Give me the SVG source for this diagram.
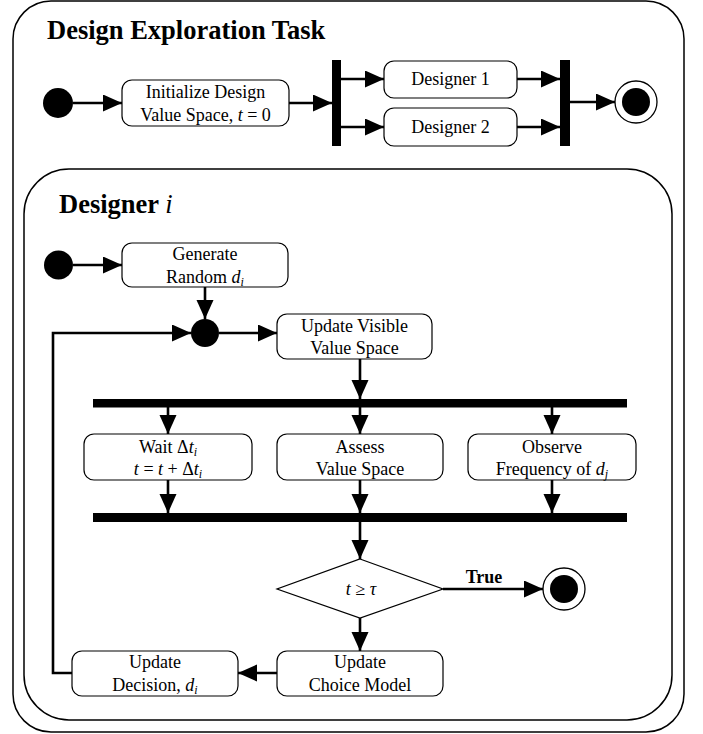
<svg xmlns="http://www.w3.org/2000/svg" width="703" height="734" viewBox="0 0 703 734" font-family="'Liberation Serif', 'Times New Roman', Times, 'DejaVu Serif', serif">
  <style>
    text { font-family: 'Liberation Serif', 'Times New Roman', Times, 'DejaVu Serif', serif; }
    .frame { fill: #fff; stroke: #000; stroke-width: 1.5; }
    .act { fill: #fff; stroke: #000; stroke-width: 1.2; }
    .bar { fill: #000; }
    .dot { fill: #000; }
    .ring { fill: #fff; stroke: #000; stroke-width: 1.3; }
    .edge { fill: none; stroke: #000; stroke-width: 2.6; }
    .lbl { font-size: 18px; fill: #000; text-anchor: middle; }
    .title { font-size: 26.5px; font-weight: bold; fill: #000; }
    .it { font-style: italic; }
    .sub { font-style: italic; font-size: 12px; }
  </style>
  <defs>
    <marker id="arrow" markerUnits="userSpaceOnUse" markerWidth="20" markerHeight="18" refX="19" refY="8.5" orient="auto">
      <path d="M0,0 L19,8.5 L0,17 z" fill="#000"/>
    </marker>
  </defs>

  <!-- outer activity frame -->
  <g id="task-frame">
    <rect class="frame" x="13" y="1" width="671" height="731" rx="38" ry="38"/>
    <text class="title" x="47" y="39">Design Exploration Task</text>
  </g>

  <!-- top-level flow -->
  <g id="task-start"><circle class="dot" cx="58" cy="103" r="15"/></g>
  <g id="init">
    <rect class="act" x="122" y="80" width="167" height="46" rx="10"/>
    <text class="lbl" x="205.5" y="98">Initialize Design</text>
    <text class="lbl" x="205.5" y="121">Value Space, <tspan class="it">t</tspan> = 0</text>
  </g>
  <g id="task-fork"><rect class="bar" x="332" y="60" width="9" height="86"/></g>
  <g id="designer1">
    <rect class="act" x="384" y="61" width="133" height="37" rx="10"/>
    <text class="lbl" x="450.5" y="85">Designer 1</text>
  </g>
  <g id="designer2">
    <rect class="act" x="384" y="108" width="133" height="38" rx="10"/>
    <text class="lbl" x="450.5" y="133">Designer 2</text>
  </g>
  <g id="task-join"><rect class="bar" x="560" y="60" width="10" height="86"/></g>
  <g id="task-end">
    <circle class="ring" cx="636" cy="102" r="21"/>
    <circle class="dot" cx="636" cy="102" r="14"/>
  </g>

  <!-- designer sub-activity frame -->
  <g id="designer-frame">
    <rect class="frame" x="24" y="169" width="648" height="551" rx="45" ry="45"/>
    <text class="title" x="59" y="213">Designer <tspan font-style="italic" font-weight="normal">i</tspan></text>
  </g>

  <g id="d-start"><circle class="dot" cx="58.5" cy="265" r="14.5"/></g>
  <g id="generate">
    <rect class="act" x="122" y="243" width="166" height="44" rx="10"/>
    <text class="lbl" x="205" y="260">Generate</text>
    <text class="lbl" x="205" y="283">Random <tspan class="it">d</tspan><tspan class="sub" dy="3">i</tspan></text>
  </g>
  <g id="merge"><circle class="dot" cx="205" cy="333" r="14"/></g>
  <g id="update-visible">
    <rect class="act" x="277" y="314" width="155" height="45" rx="10"/>
    <text class="lbl" x="354.5" y="332">Update Visible</text>
    <text class="lbl" x="354.5" y="354">Value Space</text>
  </g>
  <g id="fork"><rect class="bar" x="93" y="399" width="534" height="8.5"/></g>
  <g id="wait">
    <rect class="act" x="84" y="434" width="168" height="46" rx="10"/>
    <text class="lbl" x="168" y="453">Wait Δ<tspan class="it">t</tspan><tspan class="sub" dy="3">i</tspan></text>
    <text class="lbl" x="168" y="475"><tspan class="it">t</tspan> = <tspan class="it">t</tspan> + Δ<tspan class="it">t</tspan><tspan class="sub" dy="3">i</tspan></text>
  </g>
  <g id="assess">
    <rect class="act" x="277" y="434" width="166" height="46" rx="10"/>
    <text class="lbl" x="360" y="453">Assess</text>
    <text class="lbl" x="360" y="475">Value Space</text>
  </g>
  <g id="observe">
    <rect class="act" x="468" y="434" width="168" height="46" rx="10"/>
    <text class="lbl" x="552" y="453">Observe</text>
    <text class="lbl" x="552" y="475">Frequency of <tspan class="it">d</tspan><tspan class="sub" dy="3">j</tspan></text>
  </g>
  <g id="join"><rect class="bar" x="93" y="513" width="534" height="9"/></g>
  <g id="decision">
    <polygon class="act" points="360,559 443,589 360,618 277,589"/>
    <text class="lbl it" x="361" y="595" font-size="17">t ≥ τ</text>
  </g>
  <g id="d-end">
    <circle class="ring" cx="564" cy="589" r="21"/>
    <circle class="dot" cx="564" cy="589" r="14"/>
  </g>
  <g id="choice-model">
    <rect class="act" x="277" y="651" width="166" height="45" rx="10"/>
    <text class="lbl" x="360" y="668">Update</text>
    <text class="lbl" x="360" y="691">Choice Model</text>
  </g>
  <g id="update-decision">
    <rect class="act" x="72" y="651" width="166" height="45" rx="10"/>
    <text class="lbl" x="155" y="668">Update</text>
    <text class="lbl" x="155" y="691">Decision, <tspan class="it">d</tspan><tspan class="sub" dy="3">i</tspan></text>
  </g>

  <!-- connectors -->
  <g id="connectors">
    <line class="edge" x1="73" y1="103" x2="122" y2="103" marker-end="url(#arrow)"/>
    <line class="edge" x1="289" y1="103" x2="332" y2="103" marker-end="url(#arrow)"/>
    <line class="edge" x1="341" y1="79" x2="384" y2="79" marker-end="url(#arrow)"/>
    <line class="edge" x1="341" y1="127" x2="384" y2="127" marker-end="url(#arrow)"/>
    <line class="edge" x1="517" y1="79" x2="560" y2="79" marker-end="url(#arrow)"/>
    <line class="edge" x1="517" y1="127" x2="560" y2="127" marker-end="url(#arrow)"/>
    <line class="edge" x1="570" y1="102" x2="615" y2="102" marker-end="url(#arrow)"/>

    <line class="edge" x1="73" y1="265" x2="122" y2="265" marker-end="url(#arrow)"/>
    <line class="edge" x1="205" y1="287" x2="205" y2="319" marker-end="url(#arrow)"/>
    <line class="edge" x1="219" y1="333" x2="277" y2="333" marker-end="url(#arrow)"/>
    <line class="edge" x1="360" y1="359" x2="360" y2="399" marker-end="url(#arrow)"/>
    <line class="edge" x1="168" y1="407" x2="168" y2="434" marker-end="url(#arrow)"/>
    <line class="edge" x1="360" y1="407" x2="360" y2="434" marker-end="url(#arrow)"/>
    <line class="edge" x1="552" y1="407" x2="552" y2="434" marker-end="url(#arrow)"/>
    <line class="edge" x1="168" y1="480" x2="168" y2="513" marker-end="url(#arrow)"/>
    <line class="edge" x1="360" y1="480" x2="360" y2="513" marker-end="url(#arrow)"/>
    <line class="edge" x1="552" y1="480" x2="552" y2="513" marker-end="url(#arrow)"/>
    <line class="edge" x1="360" y1="522" x2="360" y2="559" marker-end="url(#arrow)"/>
    <line class="edge" x1="443" y1="589" x2="543" y2="589" marker-end="url(#arrow)"/>
    <text class="lbl" x="484" y="583" font-weight="bold">True</text>
    <line class="edge" x1="360" y1="618" x2="360" y2="651" marker-end="url(#arrow)"/>
    <line class="edge" x1="277" y1="673" x2="238" y2="673" marker-end="url(#arrow)"/>
    <polyline class="edge" points="72,673 53,673 53,333 191,333" marker-end="url(#arrow)"/>
  </g>
</svg>
